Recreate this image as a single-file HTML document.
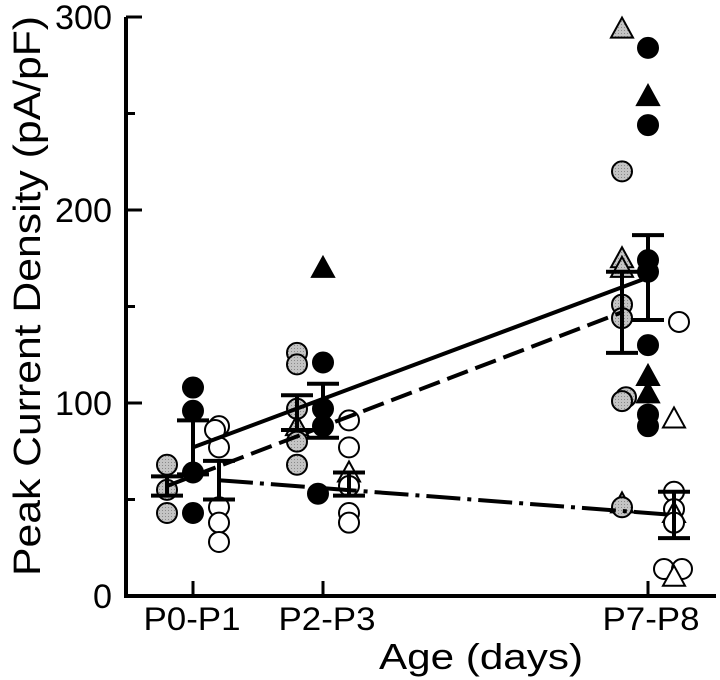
<!DOCTYPE html>
<html><head><meta charset="utf-8"><style>
body{margin:0;background:#fff}
svg{display:block;font-family:"Liberation Sans",Arial,sans-serif}
</style></head><body>
<svg id="chart" width="720" height="680" viewBox="0 0 720 680">
<defs>
<pattern id="hatch" width="3" height="3" patternUnits="userSpaceOnUse"><rect width="3" height="3" fill="#c4c4c4"/><rect width="1" height="1" fill="#8a8a8a"/></pattern>
</defs>
<g id="axes"></g>
<g id="marks"></g>
<text x="40" y="296" style="font-size:38px" textLength="560" lengthAdjust="spacingAndGlyphs" text-anchor="middle" transform="rotate(-90 40 296)">Peak Current Density (pA/pF)</text>
<text x="481" y="669" style="font-size:36px" textLength="204" lengthAdjust="spacingAndGlyphs" text-anchor="middle">Age (days)</text>
</svg>
<script>
const categories = ["P0-P1","P2-P3","P7-P8"];
const ages = [0.5, 2.5, 7.5];
const yTicks = [0,100,200,300];
const groupOffsets = [-26, 0, 26];
const grayMeans = [57, 95, 147];
const graySE = [5, 9, 21];
const blackMeans = [77, 96, 165];
const blackSE = [14, 14, 22];
const whiteMeans = [60, 58, 42];
const whiteSE = [10, 6, 12];
const grayPoints = [[0,68,'c',0],[0,55,'c',0],[0,43,'c',0],
 [1,126,'c',0],[1,120,'c',0],[1,97,'c',0],[1,88,'t',0],[1,80,'c',0],[1,68,'c',0],
 [2,294,'t',0],[2,220,'c',0],[2,175,'t',0],[2,170,'t',0],[2,151,'c',0],[2,144,'c',0],[2,103,'c',4],[2,101,'c',0],[2,48,'t',0],[2,46,'c',0]];
const blackPoints = [[0,108,'c',0],[0,96,'c',0],[0,64,'c',0],[0,43,'c',0],
 [1,170,'t',0],[1,121,'c',0],[1,97,'c',0],[1,88,'c',0],[1,53,'c',-5],
 [2,284,'c',0],[2,259,'t',0],[2,244,'c',0],[2,174,'c',0],[2,168,'c',0],[2,130,'c',0],[2,114,'t',0],[2,105,'t',0],[2,94,'c',0],[2,88,'c',0]];
const whitePoints = [[0,88,'c',0],[0,86,'c',-4],[0,77,'c',0],[0,46,'c',0],[0,38,'c',0],[0,28,'c',0],
 [1,91,'c',0],[1,77,'c',0],[1,64,'t',0],[1,57,'c',0],[1,43,'c',0],[1,38,'c',0],
 [2,142,'c',5],[2,92,'t',0],[2,54,'c',0],[2,45,'c',0],[2,43,'t',0],[2,38,'c',0],[2,14,'c',-10],[2,14,'c',8],[2,10,'t',0]];
const labelCenters = [192, 327, 651];

const X = a => 193 + (a - 0.5) * 65;
const Y = v => 596 - v * 1.93;
const NS = "http://www.w3.org/2000/svg";
function mk(tag, attrs, parent){const e=document.createElementNS(NS,tag);for(const k in attrs)e.setAttribute(k,attrs[k]);parent.appendChild(e);return e;}
const axes = document.getElementById('axes'), marks = document.getElementById('marks');

let e = mk('line',{x1:126,y1:Y(300),x2:126,y2:Y(0)+2,stroke:'#000','stroke-width':4},axes);
 
e = mk('line',{x1:124,y1:Y(0),x2:716,y2:Y(0),stroke:'#000','stroke-width':4},axes);
 
yTicks.forEach(t=>{
  const l = mk('line',{x1:126,y1:Y(t),x2:142,y2:Y(t),stroke:'#000','stroke-width':3},axes);
   
  const s = String(t);
  const tx = mk('text',{x:112,y:Y(t)+12,style:'font-size:34px','text-anchor':'end',textLength:19*s.length,lengthAdjust:'spacingAndGlyphs'},axes); tx.textContent=s;
   
});
[50,150,250].forEach(t=>{
  const l = mk('line',{x1:126,y1:Y(t),x2:135,y2:Y(t),stroke:'#000','stroke-width':3},axes);
   
});
categories.forEach((c,i)=>{
  const l = mk('line',{x1:X(ages[i]),y1:Y(0),x2:X(ages[i]),y2:Y(0)-15,stroke:'#000','stroke-width':3},axes);
   
  const tx = mk('text',{x:labelCenters[i],y:630,style:'font-size:32px','text-anchor':'middle',textLength:97,lengthAdjust:'spacingAndGlyphs'},axes); tx.textContent=c;
   
});

const groups = [
 {name:'gray',means:grayMeans,se:graySE,pts:grayPoints,fill:'url(#hatch)',off:groupOffsets[0],dash:'22 8'},
 {name:'black',means:blackMeans,se:blackSE,pts:blackPoints,fill:'#000',off:groupOffsets[1],dash:''},
 {name:'white',means:whiteMeans,se:whiteSE,pts:whitePoints,fill:'#fff',off:groupOffsets[2],dash:'34 7 4 7'}
];
groups.forEach(g=>{
  g.pts.forEach(p=>{
    const cx = X(ages[p[0]]) + g.off + p[3], cy = Y(p[1]);
    let m;
    if(p[2]=='c') m = mk('circle',{cx:cx,cy:cy,r:10,fill:g.fill,stroke:'#000','stroke-width':2},marks);
    else m = mk('polygon',{points:`${cx},${cy-11} ${cx-11},${cy+9} ${cx+11},${cy+9}`,fill:g.fill,stroke:'#000','stroke-width':2},marks);
    
    
  });
});
groups.forEach(g=>{
  g.means.forEach((mv,i)=>{
    const cx = X(ages[i]) + g.off;
    const b = mk('path',{d:`M${cx},${Y(mv+g.se[i])}V${Y(mv-g.se[i])}M${cx-16},${Y(mv+g.se[i])}H${cx+16}M${cx-16},${Y(mv-g.se[i])}H${cx+16}`,stroke:'#000','stroke-width':4,fill:'none'},marks);
    
    
  });
  const ln = mk('line',{x1:X(ages[0])+g.off,y1:Y(g.means[0]),x2:X(ages[2])+g.off,y2:Y(g.means[2]),stroke:'#000','stroke-width':4},marks);
  if(g.dash) ln.setAttribute('stroke-dasharray',g.dash);
  
  
});
</script>
</body></html>
